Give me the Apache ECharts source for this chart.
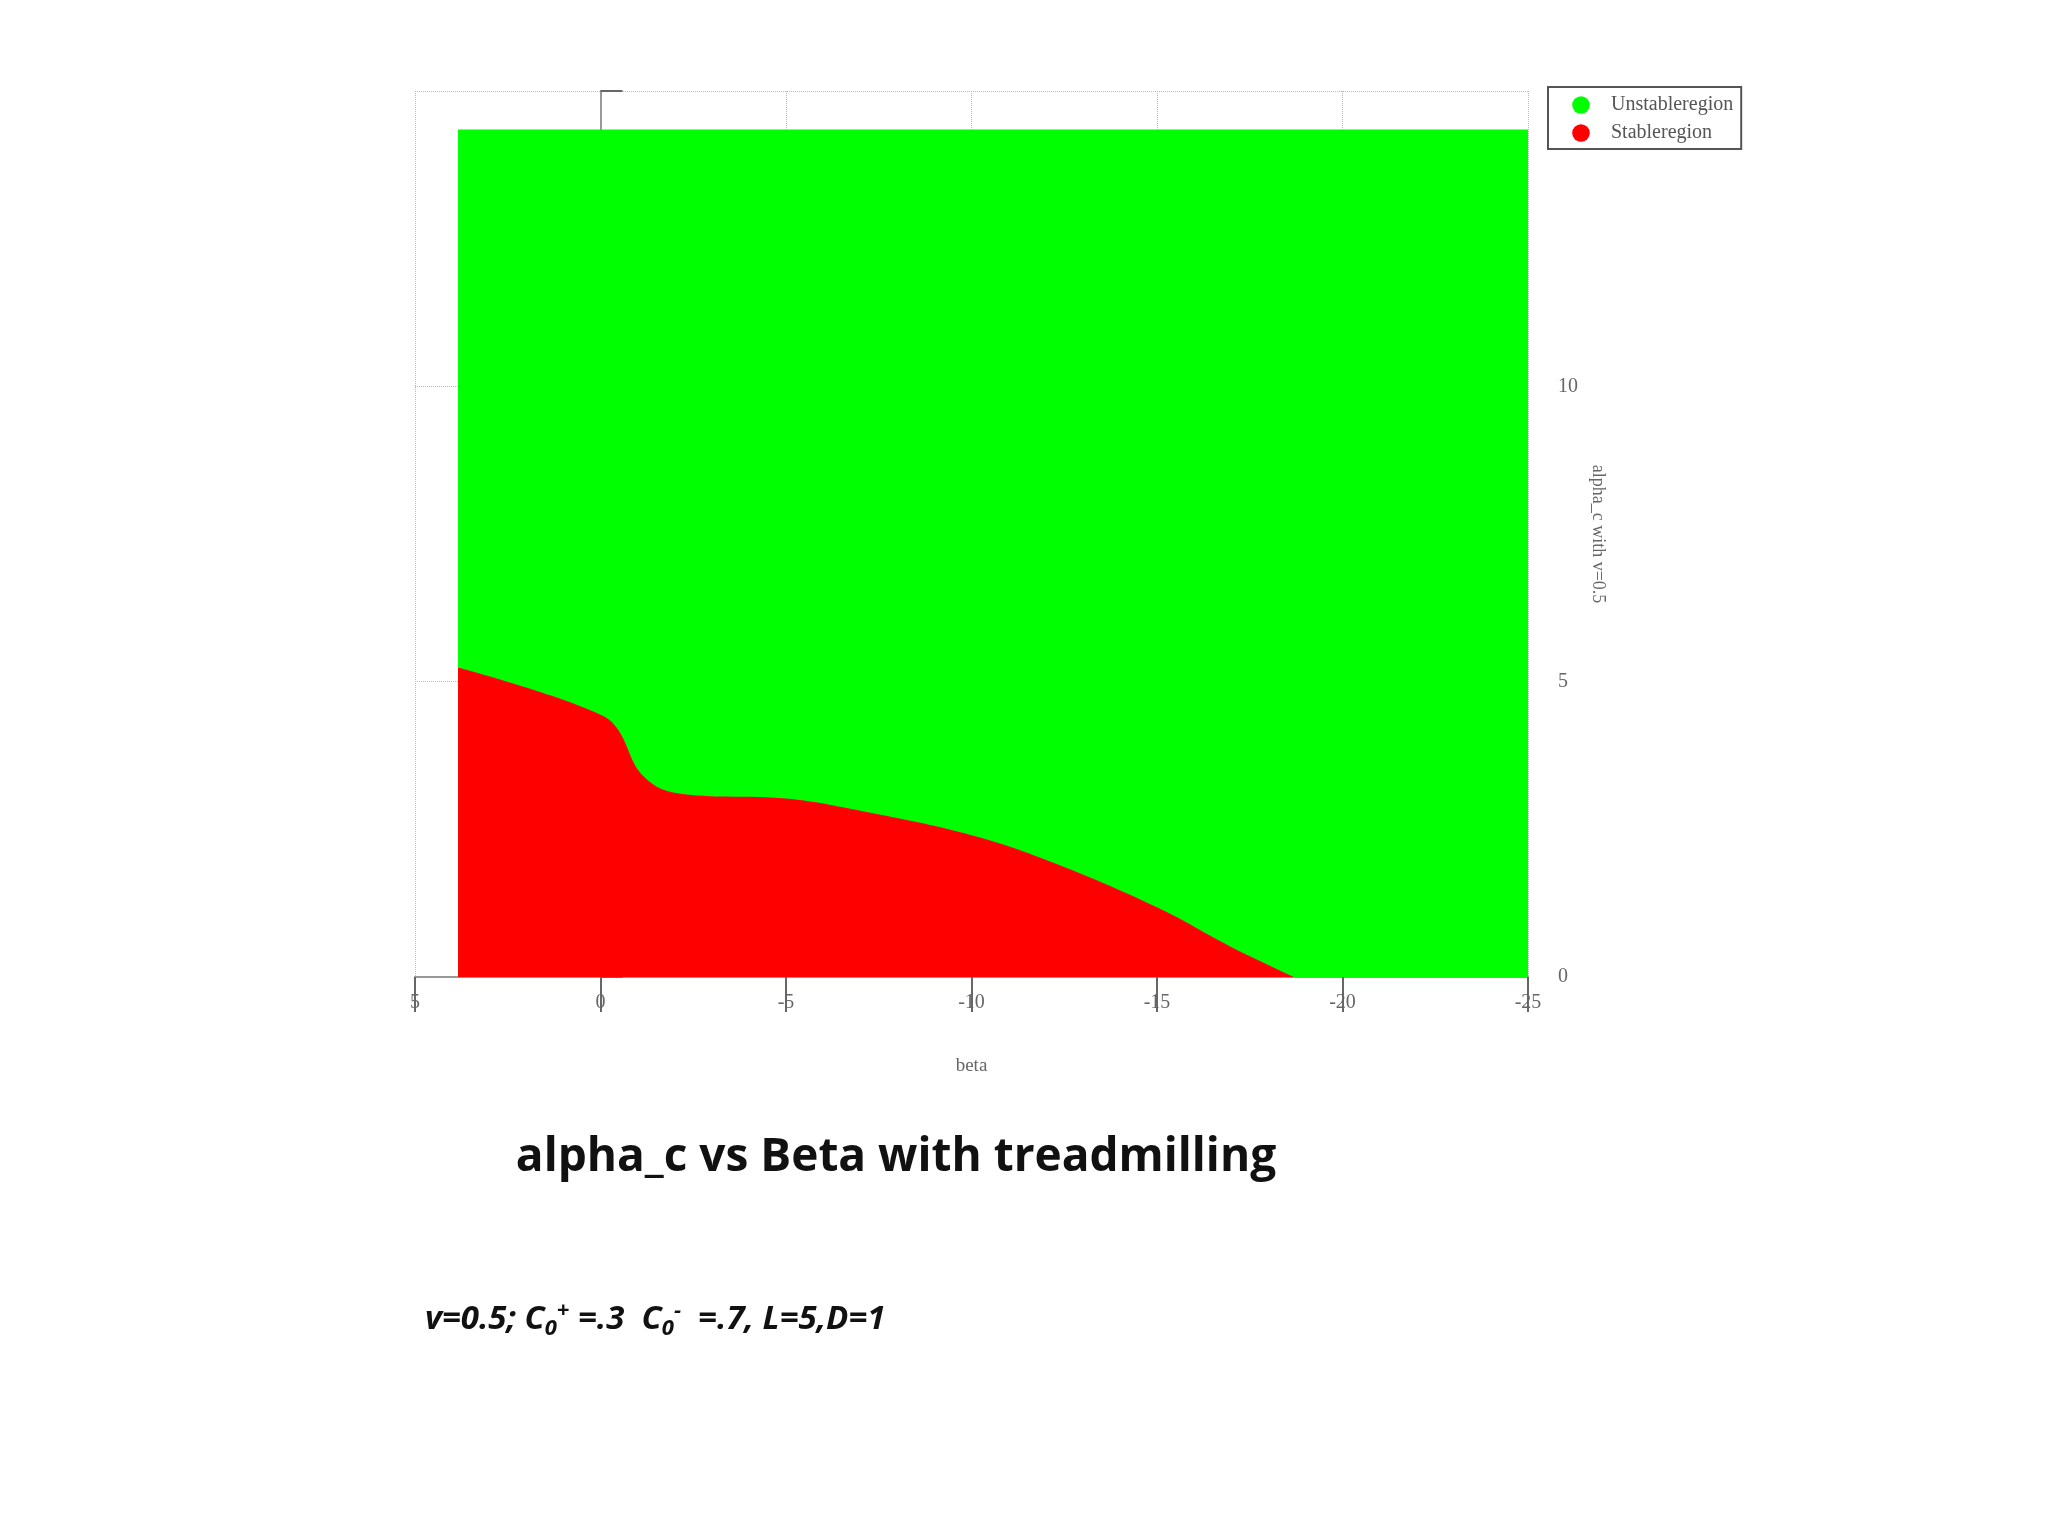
<!DOCTYPE html>
<html>
<head>
<meta charset="utf-8">
<script src="https://cdn.jsdelivr.net/npm/echarts@6/dist/echarts.min.js"></script>
<style>html,body{margin:0;padding:0;background:#fff}#chart{width:2048px;height:1536px}</style>
</head>
<body>
<div id="chart"></div>
<script>
// beta values along the stable/unstable boundary, and alpha_c at each
const betaBoundary = [3.84, 2, 0, -0.46, -1.16, -2.2, -5, -7.1, -10, -12.1, -15, -17, -18.7]
const alphaBoundary = [5.24, 4.9, 4.44, 4.2, 3.4, 3.1, 3.02, 2.8, 2.4, 1.96, 1.18, 0.51, 0]
const unstableBeta = [3.84, -25]
const unstableAlpha = [14.35, 14.35]
const xTicks = [5, 0, -5, -10, -15, -20, -25]
const yTicks = [0, 5, 10]

let chart = echarts.init(document.getElementById('chart'))
let option = {
    backgroundColor: '#fff',
    animation: false,
    title: [{
        text: 'alpha_c vs Beta with treadmilling',
        left: 891, top: 1130, textAlign: 'center',
        textStyle: {fontFamily: 'Open Sans', fontWeight: 'bold', fontSize: 46, color: '#111'}
    }, {
        text: '{t|v=0.5; C}{sub|0}{sup|+}{t| =.3  C}{sub|0}{sup|-}{t|  =.7, L=5,D=1}',
        left: 420, top: 1295,
        textStyle: {
            rich: {
                t: {fontFamily: 'Open Sans', fontWeight: 'bold', fontStyle: 'italic', fontSize: 33, color: '#111'},
                sub: {fontFamily: 'Open Sans', fontWeight: 'bold', fontStyle: 'italic', fontSize: 22, color: '#111', verticalAlign: 'bottom', padding: [18, 0, 0, 0]},
                sup: {fontFamily: 'Open Sans', fontWeight: 'bold', fontStyle: 'italic', fontSize: 22, color: '#111', verticalAlign: 'top', padding: [0, 0, 18, 0]}
            }
        }
    }],
    legend: {
        orient: 'vertical', left: 1548, top: 87,
        itemWidth: 50, itemHeight: 22, itemGap: 8,
        padding: [8, 8, 6, 8],
        borderColor: '#555', borderWidth: 2,
        data: ['Unstableregion', 'Stableregion'],
        textStyle: {fontFamily: 'Liberation Sans Narrow', fontSize: 20, color: '#555'}
    },
    grid: {left: 415, right: 520, top: 91, bottom: 559},
    xAxis: {
        type: 'value', min: -25, max: 5, interval: 5, inverse: true,
        name: 'beta', nameLocation: 'middle', nameGap: 80,
        nameTextStyle: {fontFamily: 'Liberation Sans Narrow', fontSize: 19, color: '#666'},
        axisLine: {lineStyle: {color: '#999', width: 2}},
        axisTick: {length: 35, lineStyle: {color: '#666', width: 2}},
        axisLabel: {fontFamily: 'Liberation Sans Narrow', fontSize: 20, color: '#666', margin: 16},
        splitLine: {show: true, lineStyle: {color: '#bbb', type: 'dotted'}}
    },
    yAxis: {
        type: 'value', min: 0, max: 15, interval: 5, position: 'right',
        name: 'alpha_c with v=0.5', nameLocation: 'middle', nameGap: 55, nameRotate: -90,
        nameTextStyle: {fontFamily: 'Liberation Sans Narrow', fontSize: 18, color: '#666'},
        axisLine: {show: true, lineStyle: {color: '#999', width: 2}},
        axisTick: {show: true, length: 22, lineStyle: {color: '#666', width: 2}},
        axisLabel: {fontFamily: 'Liberation Sans Narrow', fontSize: 20, color: '#666', margin: 30,
            formatter: v => yTicks.includes(v) ? String(v) : ''},
        splitLine: {show: true, lineStyle: {color: '#bbb', type: 'dotted'}}
    },
    series: [{
        name: 'Unstableregion', type: 'line', symbol: 'none',
        color: '#00ff00',
        lineStyle: {width: 0},
        areaStyle: {color: '#00ff00', opacity: 1},
        data: unstableBeta.map((b, i) => [b, unstableAlpha[i]])
    }, {
        name: 'Stableregion', type: 'line', symbol: 'none', smooth: 0.4,
        color: '#ff0000',
        lineStyle: {width: 0},
        areaStyle: {color: '#ff0000', opacity: 1},
        data: betaBoundary.map((b, i) => [b, alphaBoundary[i]])
    }]
}
chart.setOption(option)
</script>
</body>
</html>
